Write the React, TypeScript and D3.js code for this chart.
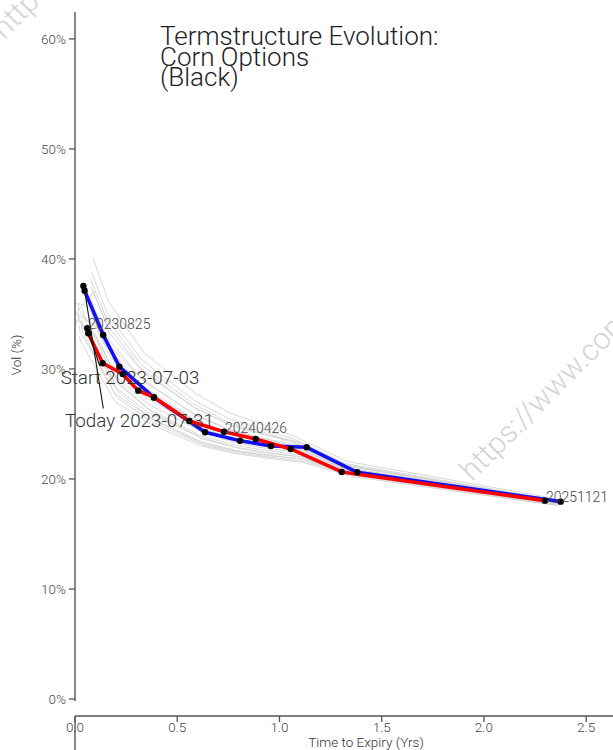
import React from "react";
import * as d3 from "d3";

// ---- data ----
const startT = [0.041, 0.047, 0.138, 0.217, 0.386, 0.636, 0.807, 0.958, 1.133, 1.38, 2.375];
const startVol = [37.55, 37.12, 33.09, 30.21, 27.4, 24.25, 23.48, 23.0, 22.88, 20.61, 17.94];

const todayT = [0.06, 0.065, 0.1355, 0.2333, 0.3095, 0.3863, 0.5589, 0.7286, 0.8836, 1.0548, 1.3042, 2.2983];
const todayVol = [33.7, 33.25, 30.52, 29.55, 28.03, 27.43, 25.27, 24.3, 23.64, 22.73, 20.64, 18.03];

// intermediate days (days after start), vols on the start expiry grid
const grayDays = [2, 3, 4, 7, 8, 9, 10, 11, 14, 15, 16, 17, 18, 21, 22, 23, 24, 25];
const grayVols: (number | null)[][] = [
  [35.5, 35.0, 32.0, 28.8, 26.0, 23.6, 22.8, 22.3, 22.0, 20.5, 17.8],
  [34.5, 34.0, 31.0, 28.0, 25.4, 23.2, 22.5, 22.1, 21.8, 20.4, 17.7],
  [34.0, 33.5, 30.0, 27.4, 25.2, 23.1, 22.4, 22.0, 21.6, 20.3, 17.6],
  [33.0, 32.5, 29.5, 27.0, 25.0, 23.0, 22.3, 21.9, 21.5, 20.2, 17.6],
  [34.0, 33.4, 30.5, 27.8, 25.6, 23.4, 22.6, 22.2, 21.8, 20.4, 17.7],
  [35.0, 34.4, 31.2, 28.4, 26.0, 23.8, 22.9, 22.4, 22.0, 20.5, 17.8],
  [36.0, 35.4, 32.4, 29.4, 26.8, 24.4, 23.3, 22.8, 22.4, 20.7, 17.9],
  [35.2, 34.6, 31.8, 29.0, 26.4, 24.0, 23.1, 22.6, 22.2, 20.6, 17.8],
  [34.0, 34.5, 33.0, 30.2, 27.4, 24.8, 23.7, 23.1, 22.7, 20.8, 17.9],
  [null, 35.0, 34.0, 31.0, 28.0, 25.2, 24.0, 23.4, 22.9, 20.9, 18.0],
  [null, 36.0, 35.5, 32.0, 28.8, 25.8, 24.4, 23.7, 23.1, 21.0, 18.0],
  [null, 35.0, 37.0, 33.2, 29.6, 26.4, 24.9, 24.1, 23.4, 21.2, 18.1],
  [null, null, 40.0, 36.0, 31.5, 27.8, 26.0, 25.0, 23.8, 21.6, 18.3],
  [null, null, 38.8, 35.0, 30.8, 27.2, 25.5, 24.6, 23.6, 21.4, 18.2],
  [null, null, 37.5, 34.0, 30.0, 26.6, 25.0, 24.2, 23.3, 21.2, 18.1],
  [null, null, 38.2, 34.6, 30.4, 26.9, 25.2, 24.4, 23.4, 21.3, 18.2],
  [null, null, 36.5, 33.0, 29.2, 26.0, 24.6, 23.8, 23.0, 21.0, 18.0],
  [null, null, 35.5, 32.2, 28.6, 25.6, 24.2, 23.5, 22.8, 20.9, 18.0],
];

const expiryLabels = ["20230825", "20240426", "20251121"];
const expiryLabelIdx = [0, 7, 11];

const xTicks = [0, 0.5, 1.0, 1.5, 2.0, 2.5];
const yTicks = [0, 10, 20, 30, 40, 50, 60];

const titleLines = ["Termstructure Evolution:", "Corn Options", "(Black)"];
const startLabel = "Start 2023-07-03";
const todayLabel = "Today 2023-07-31";
const watermark = "https://www.commoditychartbook.com";

const W = 613;
const H = 750;
const FONT = "'Roboto Light', Roboto, 'Noto Sans', sans-serif";

export default function App() {
  const x = d3.scaleLinear().domain([0, 2.631]).range([75, 613]);
  const y = d3.scaleLinear().domain([0, 62.45]).range([699, 12]);

  const line = d3
    .line<[number, number]>()
    .x((d) => x(d[0]))
    .y((d) => y(d[1]));

  const startPts: [number, number][] = startT.map((t, i) => [t, startVol[i]]);
  const todayPts: [number, number][] = todayT.map((t, i) => [t, todayVol[i]]);

  const grayPaths = grayDays.map((day, k) => {
    const pts: [number, number][] = [];
    grayVols[k].forEach((v, i) => {
      const t = startT[i] - day / 365;
      if (v !== null && t > 0) pts.push([t, v]);
    });
    return line(pts) || "";
  });

  // annotation anchors (data coords)
  const startTarget = todayPts[1];
  const todayTarget = startPts[1];
  const startText: [number, number] = [x.invert(60.7), y.invert(384)];
  const startLineEnd: [number, number] = [x.invert(100), y.invert(366)];
  const todayText: [number, number] = [x.invert(65), y.invert(427)];
  const todayLineEnd: [number, number] = [x.invert(103.3), y.invert(408.5)];

  const axisColor = "#555";
  const tickText = "#444";

  return (
    <svg
      width={W}
      height={H}
      style={{ position: "absolute", left: 0, top: 0, background: "#fff" }}
      fontFamily={FONT}
    >
      {/* watermarks */}
      <g fill="#d4d4d4" fontWeight={300} fontSize={30}>
        <text transform="translate(4,40) rotate(-45)">{watermark}</text>
        <text transform="translate(472,482) rotate(-45)">{watermark}</text>
      </g>

      {/* gray history curves */}
      <g fill="none" stroke="#d2d2d2" strokeWidth={0.9}>
        {grayPaths.map((p, i) => (
          <path key={i} d={p} />
        ))}
      </g>

      {/* main curves */}
      <path d={line(startPts) || ""} fill="none" stroke="#1010f0" strokeWidth={3.6} strokeLinejoin="round" />
      <path d={line(todayPts) || ""} fill="none" stroke="#ff0000" strokeWidth={3.6} strokeLinejoin="round" />

      {/* annotation pointers */}
      <g stroke="#111" strokeWidth={1.1}>
        <line x1={x(startTarget[0])} y1={y(startTarget[1])} x2={x(startLineEnd[0])} y2={y(startLineEnd[1])} />
        <line x1={x(todayTarget[0])} y1={y(todayTarget[1])} x2={x(todayLineEnd[0])} y2={y(todayLineEnd[1])} />
      </g>

      {/* dots */}
      <g fill="#000">
        {startPts.map((d, i) => (
          <circle key={"s" + i} cx={x(d[0])} cy={y(d[1])} r={3.2} />
        ))}
        {todayPts.map((d, i) => (
          <circle key={"t" + i} cx={x(d[0])} cy={y(d[1])} r={3.2} />
        ))}
      </g>

      {/* expiry labels */}
      <g fontSize={14} fill="#444" fontWeight={300}>
        {expiryLabels.map((lab, i) => {
          const p = todayPts[expiryLabelIdx[i]];
          return (
            <text key={lab} x={x(p[0]) + 1} y={y(p[1]) + 1}>
              {lab}
            </text>
          );
        })}
      </g>

      {/* start/today labels */}
      <g fontSize={18.8} fill="#333" fontWeight={300}>
        <text x={x(startText[0])} y={y(startText[1])}>{startLabel}</text>
        <text x={x(todayText[0])} y={y(todayText[1])}>{todayLabel}</text>
      </g>

      {/* title */}
      <g fontSize={26} fill="#222" fontWeight={300}>
        {titleLines.map((t, i) => (
          <text key={i} x={160} y={45 + i * 20.5}>
            {t}
          </text>
        ))}
      </g>

      {/* y axis */}
      <line x1={75} x2={75} y1={12} y2={701} stroke={axisColor} strokeWidth={1.4} />
      {yTicks.map((v) => (
        <g key={v}>
          <line x1={69} x2={75} y1={y(v)} y2={y(v)} stroke={axisColor} strokeWidth={1.3} />
          <text x={66} y={y(v)} dy="0.35em" textAnchor="end" fontSize={13.5} fill={tickText} fontWeight={300}>
            {v}%
          </text>
        </g>
      ))}
      <text
        transform={`translate(21,355) rotate(-90)`}
        textAnchor="middle"
        fontSize={13.5}
        fill="#333"
        fontWeight={300}
      >
        Vol (%)
      </text>

      {/* x axis */}
      <line x1={75} x2={613} y1={716} y2={716} stroke={axisColor} strokeWidth={1.4} />
      <line x1={75} x2={75} y1={716} y2={750} stroke={axisColor} strokeWidth={1.4} />
      {xTicks.map((t) => (
        <g key={t}>
          <line x1={x(t)} x2={x(t)} y1={716} y2={722} stroke={axisColor} strokeWidth={1.3} />
          <text x={x(t)} y={732} textAnchor="middle" fontSize={13.5} fill={tickText} fontWeight={300}>
            {d3.format(".1f")(t)}
          </text>
        </g>
      ))}
      <text x={366} y={747} textAnchor="middle" fontSize={13.5} fill="#333" fontWeight={300}>
        Time to Expiry (Yrs)
      </text>
    </svg>
  );
}
